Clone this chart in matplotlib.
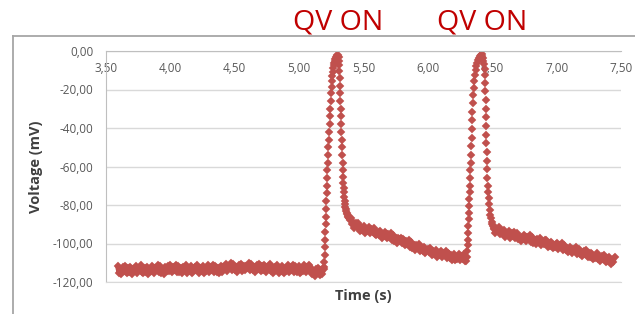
import matplotlib
matplotlib.use("Agg")
import matplotlib.pyplot as plt
import matplotlib.transforms as mtransforms
from matplotlib.lines import Line2D
from matplotlib.ticker import FuncFormatter
import numpy as np

plt.rcParams['font.family'] = ['Open Sans', 'DejaVu Sans']

# resting baseline, sampled every 10 ms from 3.59 s
baseline_start = 3.59
baseline_mv = [
    -111.8, -115.1, -113.2, -115.7, -112.4, -114.2, -111.6, -115.5, -112.9, -114.8,
    -112.1, -115.8, -113.5, -114.5, -111.7, -115.2, -112.7, -113.9, -111.4, -115.0,
    -115.5, -112.9, -114.8, -112.1, -115.8, -113.5, -114.5, -111.7, -115.2, -112.7,
    -113.9, -111.4, -115.0, -111.8, -115.1, -113.2, -115.7, -112.4, -114.2, -111.6,
    -114.5, -111.4, -114.9, -112.4, -113.6, -111.1, -114.7, -111.5, -114.8, -112.9,
    -115.4, -112.1, -113.9, -111.3, -115.2, -112.6, -114.5, -111.8, -115.5, -113.2,
    -112.1, -113.9, -111.3, -115.2, -112.6, -114.5, -111.8, -115.5, -113.2, -114.2,
    -111.4, -114.9, -112.4, -113.6, -111.1, -114.7, -111.5, -114.8, -112.9, -115.4,
    -111.8, -114.7, -112.4, -113.4, -110.6, -114.1, -111.6, -112.8, -110.3, -113.9,
    -110.7, -114.0, -112.1, -114.6, -111.3, -113.1, -110.5, -114.4, -111.8, -113.7,
    -111.6, -112.8, -110.3, -113.9, -110.7, -114.0, -112.1, -114.6, -111.3, -113.1,
    -110.5, -114.4, -111.8, -113.7, -111.0, -114.7, -112.4, -113.4, -110.6, -114.1,
    -112.1, -115.4, -112.1, -113.9, -111.3, -115.2, -112.6, -114.5, -111.8, -115.5,
    -113.2, -114.2, -111.4, -114.9, -112.4, -113.6, -111.1, -114.7, -111.5, -114.8,
    -114.5, -111.8, -115.5, -113.2, -114.2, -111.4, -114.9, -112.4, -113.6, -111.1,
    -112.8, -116.1, -114.2, -116.7, -113.4, -115.2, -112.6, -116.5, -113.9, -115.8,
    -113.1,
]

# first QV ON spike
spike1_t = [
    5.194, 5.196, 5.198, 5.200, 5.202, 5.204, 5.206, 5.208, 5.210, 5.212,
    5.214, 5.216, 5.218, 5.220, 5.222, 5.225, 5.228, 5.231, 5.234, 5.237,
    5.240, 5.243, 5.246, 5.249, 5.252, 5.255, 5.258, 5.261, 5.265, 5.269,
    5.273, 5.277, 5.282, 5.287, 5.292, 5.297, 5.302,
    5.306, 5.309, 5.311, 5.313, 5.315, 5.317, 5.319, 5.321, 5.323, 5.325,
    5.327, 5.329, 5.331, 5.333, 5.335, 5.337, 5.339, 5.341, 5.343, 5.345,
    5.347, 5.350, 5.353, 5.356, 5.359, 5.362, 5.366, 5.370, 5.374, 5.378,
    5.383, 5.388, 5.393, 5.398,
]
spike1_mv = [
    -112.0, -109.5, -106.0, -102.0, -98.0, -94.0, -90.0, -86.0, -82.0, -78.0,
    -74.0, -70.0, -66.0, -62.0, -58.0, -54.0, -50.0, -46.0, -42.0, -38.0,
    -34.0, -30.0, -26.0, -22.0, -18.5, -15.5, -13.0, -11.0, -9.0, -7.5,
    -6.0, -5.0, -4.0, -3.0, -2.5, -2.0, -2.2,
    -3.0, -5.0, -7.5, -10.5, -14.0, -18.0, -22.0, -26.0, -30.0, -34.0,
    -38.0, -42.0, -46.0, -50.0, -54.0, -58.0, -62.0, -65.5, -68.5, -71.0,
    -73.5, -76.0, -78.0, -79.5, -80.8, -82.0, -83.0, -84.0, -84.8, -85.5,
    -86.2, -86.8, -87.3, -87.8,
]

# slow decay after first spike, every 10 ms from 5.40 s
decay1_start = 5.40
decay1_mv = [
    -86.5, -90.0, -89.0, -91.7, -89.4, -91.4, -89.6, -93.3, -91.4, -93.2,
    -91.1, -94.5, -92.6, -93.7, -91.4, -94.6, -92.5, -93.8, -91.8, -95.2,
    -95.8, -93.8, -95.6, -93.5, -96.9, -95.1, -96.2, -94.0, -97.2, -95.2,
    -96.6, -94.6, -98.0, -95.5, -98.6, -97.2, -99.6, -97.0, -98.8, -96.9,
    -99.7, -97.5, -100.8, -98.8, -100.2, -98.2, -101.6, -99.1, -102.2, -100.8,
    -103.2, -100.6, -102.3, -100.4, -103.9, -101.9, -103.7, -101.6, -105.0, -103.3,
    -102.6, -104.3, -102.3, -105.8, -103.8, -105.6, -103.4, -106.8, -104.9, -106.0,
    -103.7, -106.9, -104.8, -106.1, -104.0, -107.3, -104.7, -107.7, -106.2, -108.5,
    -105.5, -108.8, -106.9, -107.9, -105.6, -108.7, -106.6, -107.8, -105.7, -108.9,
]

# second QV ON spike
spike2_t = [
    6.298, 6.302, 6.305, 6.308, 6.311, 6.313, 6.315, 6.317, 6.319, 6.321,
    6.323, 6.325, 6.327, 6.329, 6.331, 6.333, 6.335, 6.337, 6.339, 6.341,
    6.343, 6.346, 6.349, 6.352, 6.356, 6.360, 6.365, 6.370, 6.376, 6.382,
    6.389, 6.396, 6.403, 6.410, 6.417,
    6.422, 6.427, 6.432, 6.436, 6.440, 6.443, 6.445, 6.446, 6.448, 6.449,
    6.451, 6.452, 6.454, 6.455, 6.457, 6.458, 6.460, 6.462, 6.465, 6.468,
    6.472, 6.476, 6.481, 6.486, 6.491, 6.496, 6.501, 6.506, 6.511, 6.516,
]
spike2_mv = [
    -109.0, -107.0, -104.0, -101.0, -98.0, -94.5, -91.0, -87.5, -84.0, -80.5,
    -77.0, -73.5, -70.0, -66.0, -62.0, -58.0, -54.0, -49.5, -45.0, -40.5,
    -36.0, -31.5, -27.0, -23.0, -19.0, -15.5, -12.5, -10.0, -8.0, -6.0,
    -4.5, -3.5, -2.5, -2.0, -1.8,
    -2.5, -3.5, -5.0, -7.0, -9.5, -12.5, -16.5, -21.0, -25.5, -30.0,
    -34.5, -39.0, -43.5, -48.0, -52.5, -57.0, -61.5, -66.0, -70.0, -73.5,
    -76.5, -79.5, -82.5, -85.0, -87.0, -88.7, -90.0, -91.0, -91.8, -92.4,
]

# slow decay after second spike, every 10 ms from 6.52 s
decay2_start = 6.52
decay2_mv = [
    -94.4, -91.8, -93.5, -91.6, -95.1, -93.2, -95.0, -93.0, -96.4, -94.7,
    -95.8, -93.7, -96.9, -94.8, -96.1, -94.0, -97.3, -94.7, -97.7, -96.2,
    -98.6, -96.7, -97.8, -95.5, -98.7, -96.6, -97.9, -95.8, -99.1, -96.5,
    -99.5, -98.1, -100.3, -97.7, -99.4, -97.3, -100.8, -98.7, -100.5, -98.4,
    -98.1, -101.6, -99.6, -101.3, -99.2, -102.5, -100.7, -101.8, -99.5, -102.7,
    -100.7, -101.9, -99.9, -103.2, -100.7, -103.6, -102.2, -104.5, -101.9, -103.6,
    -104.7, -102.6, -103.9, -101.9, -105.2, -102.7, -105.7, -104.2, -106.5, -103.9,
    -105.6, -103.6, -107.1, -105.0, -106.8, -104.7, -108.1, -106.3, -107.3, -105.1,
    -108.2, -106.8, -109.1, -106.4, -108.1, -106.1, -109.6, -107.6, -109.3, -107.2,
    -110.5, -108.6, -109.4, -106.9,
]

peak_times = [5.30, 6.42]
peak_label = 'QV ON'

point_color = '#C0504D'


def sampled(start, values, step=0.01):
    return list(np.round(start + step * np.arange(len(values)), 3))


baseline_t = sampled(baseline_start, baseline_mv)
decay1_t = sampled(decay1_start, decay1_mv)
decay2_t = sampled(decay2_start, decay2_mv)

time_s = baseline_t + spike1_t + decay1_t + spike2_t + decay2_t
voltage = baseline_mv + spike1_mv + decay1_mv + spike2_mv + decay2_mv

fig = plt.figure(figsize=(6.35, 3.14), dpi=100)
ax = fig.add_axes([106 / 635, 1 - 282 / 314, 515 / 635, 231 / 314])

# densely sampled stretches merge into a solid band in the original
for seg_t, seg_v in [(baseline_t, baseline_mv), (decay1_t, decay1_mv),
                     (decay2_t, decay2_mv)]:
    ax.plot(seg_t, seg_v, color=point_color, linewidth=3.5,
            solid_joinstyle='round', solid_capstyle='round')

ax.plot(time_s, voltage, linestyle='none', marker='D', markersize=4.5,
        color=point_color, markeredgewidth=0.3, markeredgecolor=point_color)

ax.set_xlim(3.5, 7.5)
ax.set_ylim(-120, 0)
ax.set_xticks(np.arange(3.5, 7.51, 0.5))
ax.set_yticks(np.arange(-120, 1, 20))
comma = FuncFormatter(lambda v, _: ('%.2f' % v).replace('.', ','))
ax.xaxis.set_major_formatter(comma)
ax.yaxis.set_major_formatter(comma)

ax.xaxis.tick_top()
ax.tick_params(axis='x', length=0, pad=-17, labelsize=8.5, labelcolor='#595959')
ax.tick_params(axis='y', length=0, pad=9, labelsize=8.5, labelcolor='#595959')

ax.grid(axis='y', color='#D9D9D9', linewidth=1)
ax.set_axisbelow(True)
ax.spines['right'].set_visible(False)
ax.spines['top'].set_color('#BFBFBF')
ax.spines['left'].set_color('#BFBFBF')
ax.spines['bottom'].set_color('#D9D9D9')

ax.set_xlabel('Time (s)', fontsize=10.5, fontweight='bold', color='#404040', labelpad=5)
ax.xaxis.set_label_position('bottom')
ax.set_ylabel('Voltage (mV)', fontsize=10.5, fontweight='bold', color='#404040', labelpad=7)

# red markers above each spike
trans = mtransforms.blended_transform_factory(ax.transData, fig.transFigure)
for t in peak_times:
    ax.text(t, 1 - 30 / 314, peak_label, transform=trans, ha='center', va='baseline',
            fontsize=20.5, color='#C00000', clip_on=False)

# chart frame (cropped at right and bottom)
fig.add_artist(Line2D([13 / 635, 1], [1 - 36 / 314] * 2, transform=fig.transFigure,
                      color='#A6A6A6', linewidth=1.3))
fig.add_artist(Line2D([13 / 635] * 2, [0, 1 - 36 / 314], transform=fig.transFigure,
                      color='#A6A6A6', linewidth=1.3))

fig.savefig('out.png', dpi=100)
